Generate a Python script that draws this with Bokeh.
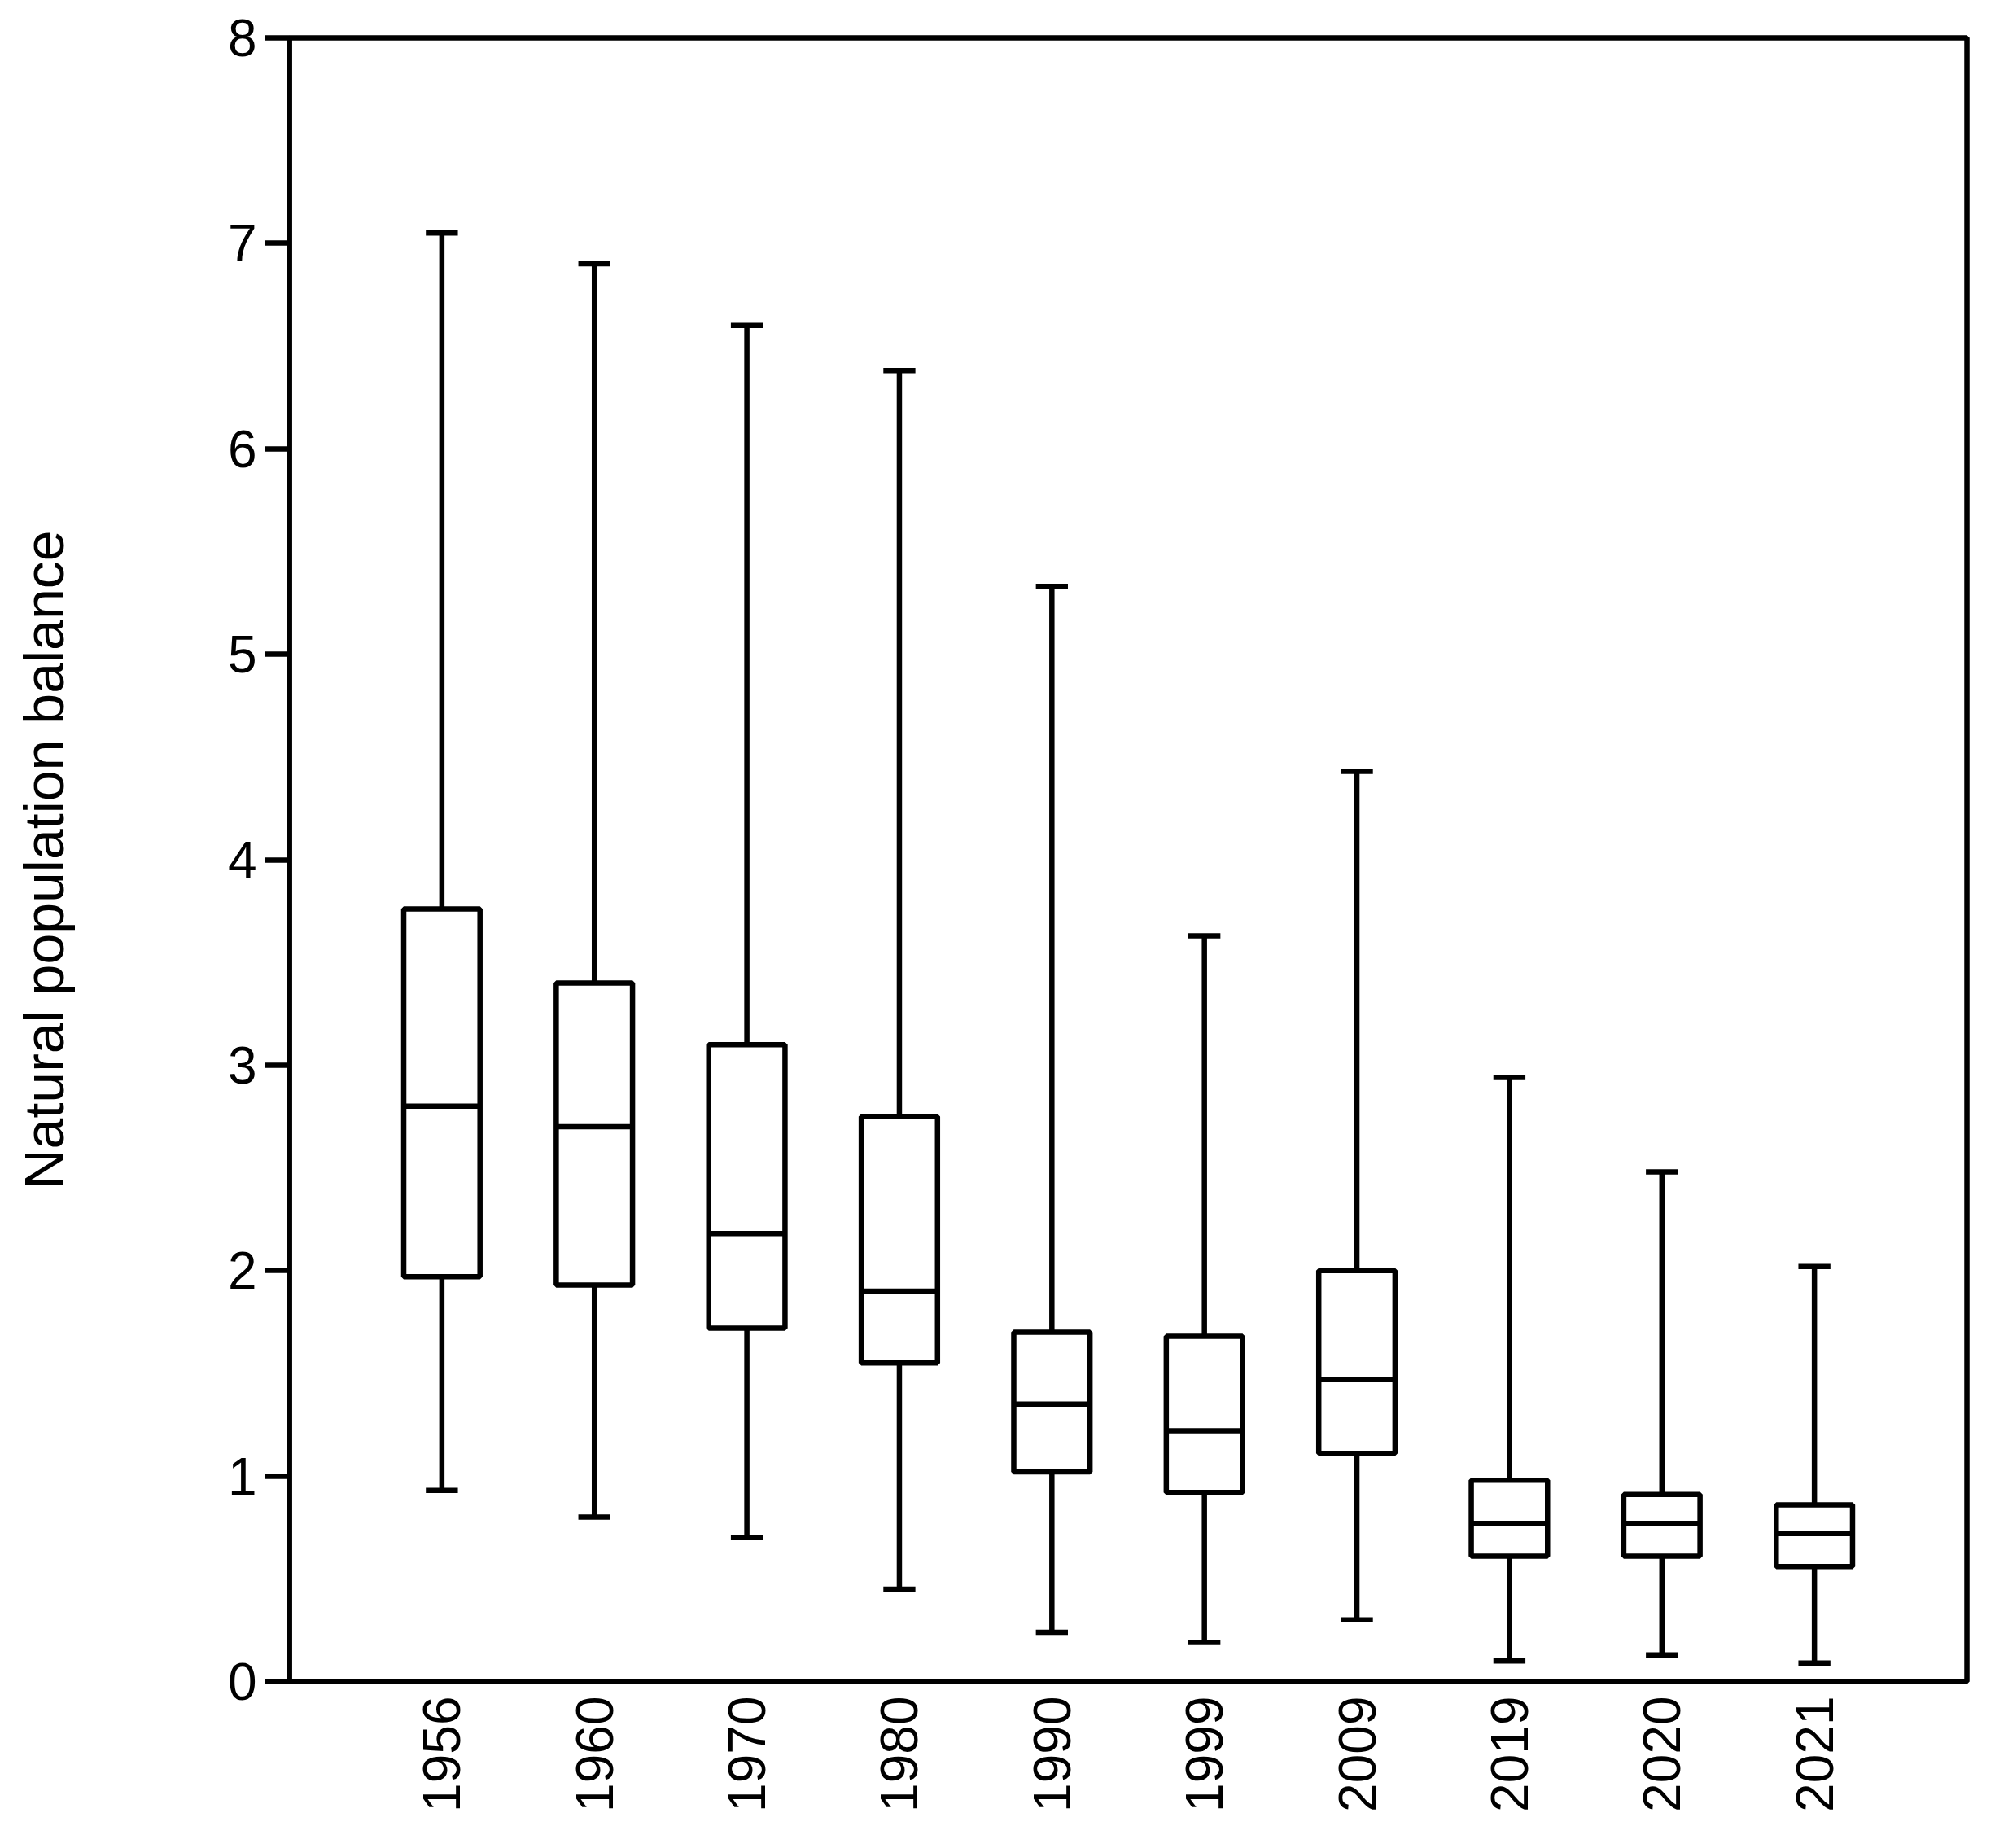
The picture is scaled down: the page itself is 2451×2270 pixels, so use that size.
import math
from bokeh.plotting import figure
from bokeh.models import Range1d, FixedTicker
from bokeh.embed import file_html
from bokeh.resources import INLINE

years = ["1956", "1960", "1970", "1980", "1990", "1999", "2009", "2019", "2020", "2021"]
whisker_low = [0.93, 0.80, 0.70, 0.45, 0.24, 0.19, 0.30, 0.10, 0.13, 0.09]
q1 = [1.97, 1.93, 1.72, 1.55, 1.02, 0.92, 1.11, 0.61, 0.61, 0.56]
median = [2.80, 2.70, 2.18, 1.90, 1.35, 1.22, 1.47, 0.77, 0.77, 0.72]
q3 = [3.76, 3.40, 3.10, 2.75, 1.70, 1.68, 2.00, 0.98, 0.91, 0.86]
whisker_high = [7.05, 6.90, 6.60, 6.38, 5.33, 3.63, 4.43, 2.94, 2.48, 2.02]
y_ticks = [0, 1, 2, 3, 4, 5, 6, 7, 8]

FONT = "Liberation Sans"
LW = 6.5
BOX_W = 0.5
CAP_HALF = 0.105

xs = list(range(1, len(years) + 1))

p = figure(width=2443, height=2262, output_backend="svg", toolbar_location=None,
           x_range=Range1d(0, len(years) + 1), y_range=Range1d(0, 8),
           min_border_left=355, min_border_right=27, min_border_top=46, min_border_bottom=197)

p.background_fill_color = "white"
p.border_fill_color = "white"
p.outline_line_color = "black"
p.outline_line_width = LW
p.xgrid.visible = False
p.ygrid.visible = False

# whiskers
p.segment(x0=xs, y0=q3, x1=xs, y1=whisker_high, line_color="black", line_width=LW)
p.segment(x0=xs, y0=whisker_low, x1=xs, y1=q1, line_color="black", line_width=LW)
# caps
p.segment(x0=[x - CAP_HALF for x in xs], y0=whisker_high, x1=[x + CAP_HALF for x in xs], y1=whisker_high,
          line_color="black", line_width=LW)
p.segment(x0=[x - CAP_HALF for x in xs], y0=whisker_low, x1=[x + CAP_HALF for x in xs], y1=whisker_low,
          line_color="black", line_width=LW)
# boxes
p.vbar(x=xs, bottom=q1, top=q3, width=BOX_W, fill_color="white", line_color="black", line_width=LW)
# medians
p.segment(x0=[x - BOX_W / 2 for x in xs], y0=median, x1=[x + BOX_W / 2 for x in xs], y1=median,
          line_color="black", line_width=LW)

# x axis
xa = p.xaxis[0]
xa.ticker = FixedTicker(ticks=xs)
xa.major_label_overrides = {x: y for x, y in zip(xs, years)}
xa.major_label_orientation = math.pi / 2
xa.major_tick_line_color = None
xa.major_tick_out = 0
xa.major_tick_in = 0
xa.minor_tick_line_color = None
xa.major_label_standoff = 18
xa.major_label_text_font = FONT
xa.major_label_text_font_size = "64px"
xa.major_label_text_color = "black"
xa.axis_line_width = LW
xa.axis_line_color = "black"

# y axis
ya = p.yaxis[0]
ya.ticker = FixedTicker(ticks=y_ticks)
ya.major_tick_out = 30
ya.major_tick_in = 0
ya.major_tick_line_width = LW
ya.major_tick_line_color = "black"
ya.minor_tick_line_color = None
ya.major_label_standoff = 10
ya.major_label_text_font = FONT
ya.major_label_text_font_size = "64px"
ya.major_label_text_color = "black"
ya.axis_line_width = LW
ya.axis_line_color = "black"
ya.axis_label = "Natural population balance"
ya.axis_label_text_font = FONT
ya.axis_label_text_font_size = "68px"
ya.axis_label_text_font_style = "normal"
ya.axis_label_text_color = "black"
ya.axis_label_standoff = 185

open("out.html", "w").write(file_html(p, INLINE))
